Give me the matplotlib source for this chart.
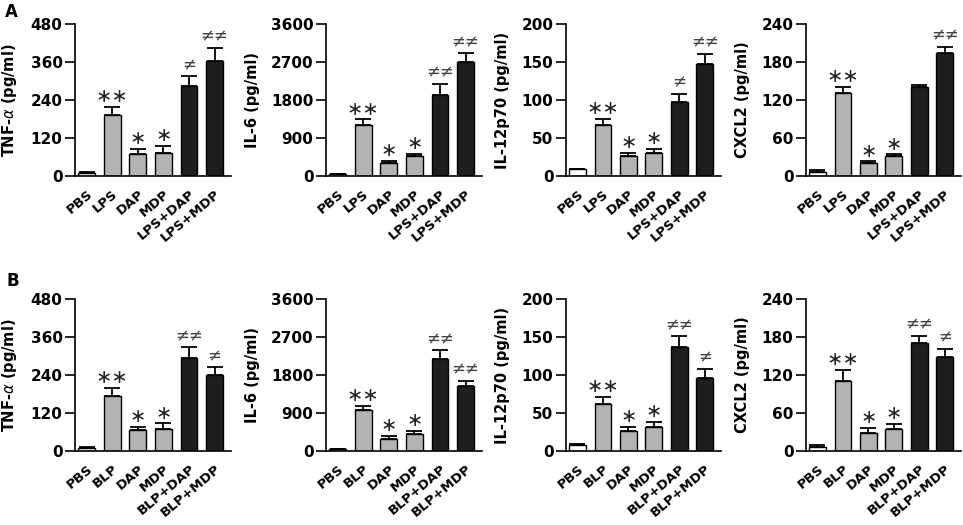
import numpy as np
import matplotlib
matplotlib.use("Agg")
import matplotlib.pyplot as plt

# ─── Datos ───────────────────────────────────────────────────────────────────
labels_a = ["PBS", "LPS", "DAP", "MDP", "LPS+DAP", "LPS+MDP"]
labels_b = ["PBS", "BLP", "DAP", "MDP", "BLP+DAP", "BLP+MDP"]

ylabels = [r"TNF-$\alpha$ (pg/ml)", "IL-6 (pg/ml)", "IL-12p70 (pg/ml)", "CXCL2 (pg/ml)"]
ymax = [480, 3600, 200, 240]
ystep = [120, 900, 50, 60]

# fila A
tnf_a = [10, 192, 69, 74, 283, 364]
tnf_a_err = [2, 26, 17, 20, 32, 41]
il6_a = [45, 1216, 302, 469, 1916, 2703]
il6_a_err = [10, 127, 56, 48, 262, 200]
il12_a = [9, 67, 26, 30, 98, 147]
il12_a_err = [0.5, 8, 4, 6, 10, 14]
cxcl2_a = [7, 131, 21, 32, 140, 194]
cxcl2_a_err = [2, 10, 2, 2, 3.5, 10]

# fila B
tnf_b = [10, 173, 67, 68, 295, 239]
tnf_b_err = [2, 27, 9, 19, 33, 25]
il6_b = [50, 973, 293, 396, 2176, 1543]
il6_b_err = [8, 103, 63, 79, 205, 126]
il12_b = [8.5, 62, 26, 31, 137, 96]
il12_b_err = [0.5, 9, 6, 7, 14, 12]
cxcl2_b = [7, 111, 28, 34, 170, 148]
cxcl2_b_err = [2, 17, 8, 9, 12, 13]

marks_a = [["", "**", "*", "*", "≠", "≠≠"],
           ["", "**", "*", "*", "≠≠", "≠≠"],
           ["", "**", "*", "*", "≠", "≠≠"],
           ["", "**", "*", "*", "", "≠≠"]]
marks_b = [["", "**", "*", "*", "≠≠", "≠"],
           ["", "**", "*", "*", "≠≠", "≠≠"],
           ["", "**", "*", "*", "≠≠", "≠"],
           ["", "**", "*", "*", "≠≠", "≠"]]

rows = [
    (labels_a, [(tnf_a, tnf_a_err), (il6_a, il6_a_err), (il12_a, il12_a_err), (cxcl2_a, cxcl2_a_err)], marks_a),
    (labels_b, [(tnf_b, tnf_b_err), (il6_b, il6_b_err), (il12_b, il12_b_err), (cxcl2_b, cxcl2_b_err)], marks_b),
]

bar_colors = ["white", "#b3b3b3", "#b3b3b3", "#b3b3b3", "#1e1e1e", "#1e1e1e"]

# ─── Figura ──────────────────────────────────────────────────────────────────
fig = plt.figure(figsize=(9.63, 5.25), dpi=100)
W, H = 963, 525
lefts = [75, 326, 566, 806]
widths = [156, 156, 155, 155]
tops = [24, 299]
ax_h = 152

x = np.arange(6)
for r, (labels, series, marks) in enumerate(rows):
    for c in range(4):
        ax = fig.add_axes([lefts[c] / W, 1 - (tops[r] + ax_h) / H, widths[c] / W, ax_h / H])
        vals, errs = series[c]
        ax.bar(x, vals, width=0.66, color=bar_colors, edgecolor="black", linewidth=1.0, zorder=2)
        ax.errorbar(x, vals, yerr=[np.zeros(6), errs], fmt="none", ecolor="black",
                    elinewidth=1.3, capsize=6, capthick=1.3, zorder=1)
        for i in range(6):
            m = marks[c][i]
            if not m:
                continue
            top = vals[i] + errs[i]
            if "*" in m:
                ax.text(x[i], top + ymax[c] * 0.005, m.replace("*", "\u2217"),
                        ha="center", va="bottom", fontsize=14, color="#222222")
            else:
                ax.text(x[i], top + ymax[c] * 0.015, m, ha="center", va="bottom",
                        fontsize=12, color="#444444")
        ax.set_xlim(-0.45, 5.64)
        ax.set_ylim(0, ymax[c])
        ax.set_yticks(np.arange(0, ymax[c] + 1, ystep[c]))
        ax.set_xticks(x)
        ax.set_xticklabels(labels, rotation=40, ha="right", rotation_mode="anchor",
                           fontsize=9.5, fontweight="bold")
        ax.tick_params(axis="x", length=0, pad=8)
        ax.tick_params(axis="y", length=7, width=1.2, labelsize=11, pad=2)
        for t in ax.get_yticklabels():
            t.set_fontweight("bold")
        ax.set_ylabel(ylabels[c], fontsize=10.5, fontweight="bold", labelpad=8)
        for s in ["top", "right"]:
            ax.spines[s].set_visible(False)
        for s in ["left", "bottom"]:
            ax.spines[s].set_linewidth(1.2)

fig.text(5 / W, 1 - 12 / H, "A", fontsize=12, fontweight="bold", va="center", ha="left")
fig.text(6 / W, 1 - 281 / H, "B", fontsize=12, fontweight="bold", va="center", ha="left")

fig.savefig("out.png", dpi=100)
